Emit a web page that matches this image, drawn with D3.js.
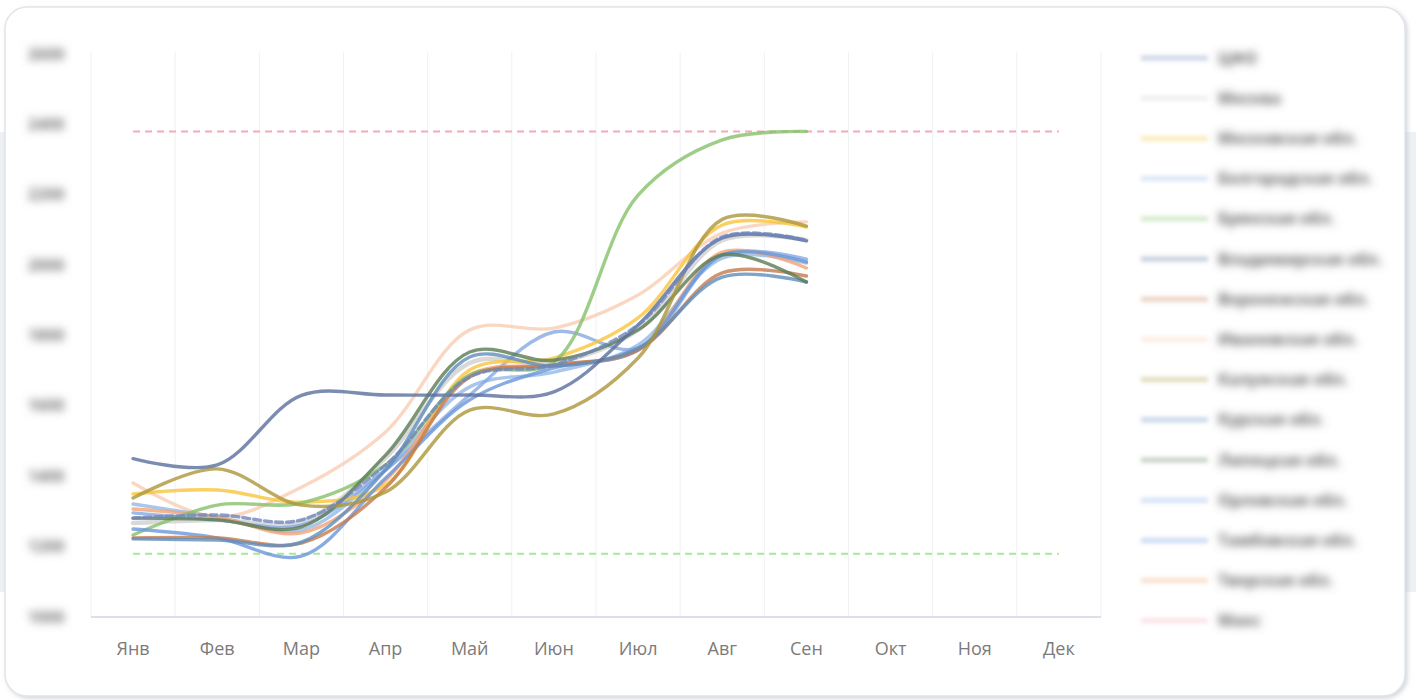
<!DOCTYPE html>
<html>
<head>
<meta charset="utf-8">
<script src="https://cdn.jsdelivr.net/npm/d3@7"></script>
<style>
  body { margin: 0; background: #ffffff; }
  svg { display: block; font-family: "Open Sans", sans-serif; }
</style>
</head>
<body>
<svg width="1416" height="700"></svg>
<script>
// Data
var months = ["Янв", "Фев", "Мар", "Апр", "Май", "Июн", "Июл", "Авг", "Сен", "Окт", "Ноя", "Дек"];
var yTicks = [1000, 1200, 1400, 1600, 1800, 2000, 2200, 2400, 2600];

var seriesNames = ["ЦФО", "Москва", "Московская обл.", "Белгородская обл.", "Брянская обл.",
    "Владимирская обл.", "Воронежская обл.", "Ивановская обл.", "Калужская обл.", "Курская обл.",
    "Липецкая обл.", "Орловская обл.", "Тамбовская обл.", "Тверская обл."];

var cfo          = [1281, 1290, 1276, 1432, 1682, 1716, 1830, 2080, 2071];
var moskva       = [1267, 1276, 1270, 1452, 1722, 1722, 1816, 2071, 2071];
var moskovskaya  = [1350, 1361, 1326, 1375, 1702, 1736, 1850, 2114, 2108];
var belgorodskaya= [1321, 1284, 1247, 1418, 1654, 1696, 1773, 2020, 2006];
var bryanskaya   = [1233, 1318, 1324, 1432, 1688, 1725, 2199, 2356, 2380];
var vladimirskaya= [1450, 1432, 1630, 1631, 1631, 1640, 1830, 2077, 2069];
var voronezhskaya= [1225, 1225, 1210, 1367, 1682, 1716, 1759, 1978, 1969];
var ivanovskaya  = [1381, 1284, 1369, 1526, 1816, 1821, 1915, 2091, 2123];
var kaluzhskaya  = [1338, 1421, 1318, 1355, 1588, 1577, 1736, 2130, 2111];
var kurskaya     = [1222, 1219, 1213, 1418, 1739, 1713, 1764, 1966, 1952];
var lipetskaya   = [1281, 1276, 1256, 1460, 1753, 1730, 1816, 2029, 1952];
var orlovskaya   = [1296, 1276, 1261, 1418, 1631, 1810, 1764, 2029, 2017];
var tambovskaya  = [1250, 1225, 1173, 1395, 1617, 1708, 1759, 2029, 2009];
var tverskaya    = [1307, 1284, 1239, 1389, 1688, 1716, 1759, 2037, 1992];

var maxLevel = 2380;
var minLevel = 1180;

var seriesValues = [cfo, moskva, moskovskaya, belgorodskaya, bryanskaya, vladimirskaya,
    voronezhskaya, ivanovskaya, kaluzhskaya, kurskaya, lipetskaya, orlovskaya, tambovskaya, tverskaya];

var colors = ["#6f86bb", "#cfcfcf", "#f7c43a", "#93b8e6", "#86c06a", "#5a6f9c", "#c47a4c",
    "#f8c9ae", "#ad963a", "#5e8dbd", "#5b7c52", "#86a9e2", "#6a97da", "#f1a374"];

// The svg
var svg = d3.select("svg"),
    width = +svg.attr("width"),
    height = +svg.attr("height");

// page band + card
svg.append("rect")
    .attr("x", 0).attr("y", 132).attr("width", width).attr("height", 460)
    .attr("fill", "#eef0f4");

var defs = svg.append("defs");
var sh = defs.append("filter").attr("id", "shadow").attr("x", "-5%").attr("y", "-5%").attr("width", "110%").attr("height", "110%");
sh.append("feDropShadow").attr("dx", 2).attr("dy", 2).attr("stdDeviation", 2).attr("flood-color", "#b8bec6").attr("flood-opacity", 0.6);
defs.append("filter").attr("id", "blurText").attr("x", "-20%").attr("y", "-20%").attr("width", "140%").attr("height", "140%")
    .append("feGaussianBlur").attr("stdDeviation", 4);
defs.append("filter").attr("id", "blurSwatch").attr("x", "-20%").attr("y", "-20%").attr("width", "140%").attr("height", "140%")
    .append("feGaussianBlur").attr("stdDeviation", 2);

svg.append("rect")
    .attr("x", 5).attr("y", 7).attr("width", 1400).attr("height", 689)
    .attr("rx", 22)
    .attr("fill", "#ffffff")
    .attr("stroke", "#e1e5ea")
    .attr("stroke-width", 1.5)
    .attr("filter", "url(#shadow)");

// Scales
var x = d3.scaleBand()
    .domain(months)
    .range([91, 1101]);
var cx = function(m) { return x(m) + x.bandwidth() / 2; };

var y = d3.scaleLinear()
    .domain([1000, 2600])
    .range([617, 54]);

// vertical grid at category edges
svg.append("g")
    .selectAll("line")
    .data(months.concat(["end"]))
    .enter()
    .append("line")
    .attr("x1", function(d) { return d === "end" ? 1101 : x(d); })
    .attr("x2", function(d) { return d === "end" ? 1101 : x(d); })
    .attr("y1", 52)
    .attr("y2", 617)
    .attr("stroke", "#f0f1f3")
    .attr("stroke-width", 1);

// x axis line and labels
svg.append("line")
    .attr("x1", 91).attr("x2", 1101)
    .attr("y1", 617).attr("y2", 617)
    .attr("stroke", "#dde1e7")
    .attr("stroke-width", 2);

svg.append("g")
    .selectAll("text")
    .data(months)
    .enter()
    .append("text")
    .attr("x", cx)
    .attr("y", 655)
    .attr("text-anchor", "middle")
    .style("font-size", "18px")
    .attr("fill", "#7b7b7b")
    .text(function(d) { return d; });

// y labels (soft, as in the reference)
svg.append("g")
    .attr("filter", "url(#blurText)")
    .selectAll("text")
    .data(yTicks)
    .enter()
    .append("text")
    .attr("x", 46)
    .attr("y", function(d) { return y(d); })
    .attr("dy", "0.35em")
    .attr("text-anchor", "middle")
    .style("font-size", "16px")
    .style("font-weight", "700")
    .attr("fill", "#7a7a7a")
    .text(function(d) { return d; });

// reference levels
svg.append("line")
    .attr("x1", cx(months[0])).attr("x2", cx(months[11]))
    .attr("y1", y(maxLevel)).attr("y2", y(maxLevel))
    .attr("stroke", "#f7a9b8")
    .attr("stroke-width", 2)
    .style("stroke-dasharray", "7,5");

svg.append("line")
    .attr("x1", cx(months[0])).attr("x2", cx(months[11]))
    .attr("y1", y(minLevel)).attr("y2", y(minLevel))
    .attr("stroke", "#a3ea93")
    .attr("stroke-width", 2)
    .style("stroke-dasharray", "7,5");

// lines
var line = d3.line()
    .x(function(d, i) { return cx(months[i]); })
    .y(function(d) { return y(d); })
    .curve(d3.curveCatmullRom.alpha(0.5));

// draw order: light ones first, then darker, dashed ЦФО on top
var order = [7, 1, 3, 11, 13, 2, 4, 12, 6, 9, 10, 8, 5, 0];

svg.append("g")
    .selectAll("path")
    .data(order)
    .enter()
    .append("path")
    .attr("d", function(i) { return line(seriesValues[i]); })
    .attr("fill", "none")
    .attr("stroke", function(i) { return colors[i]; })
    .attr("stroke-width", function(i) { return i === 1 ? 4.5 : 3.4; })
    .attr("stroke-opacity", function(i) { return i === 7 ? 0.75 : 0.8; })
    .style("stroke-dasharray", function(i) { return i === 0 ? "7,4" : null; })
    .attr("stroke-linecap", "round");

// legend
var legendNames = seriesNames.concat(["Макс"]);
var legendColors = colors.concat(["#f7a9b8"]);

var legend = svg.append("g");

legend.append("g")
    .attr("filter", "url(#blurSwatch)")
    .selectAll("line")
    .data(legendNames)
    .enter()
    .append("line")
    .attr("x1", 1141)
    .attr("x2", 1208)
    .attr("y1", function(d, i) { return 58 + i * 40.2; })
    .attr("y2", function(d, i) { return 58 + i * 40.2; })
    .attr("stroke", function(d, i) { return legendColors[i]; })
    .attr("stroke-width", 5)
    .attr("stroke-opacity", 0.35);

legend.append("g")
    .attr("filter", "url(#blurText)")
    .selectAll("text")
    .data(legendNames)
    .enter()
    .append("text")
    .attr("x", 1218)
    .attr("y", function(d, i) { return 58 + i * 40.2; })
    .attr("dy", "0.35em")
    .style("font-size", "16px")
    .style("font-weight", "700")
    .attr("fill", "#666666")
    .text(function(d) { return d; });
</script>
</body>
</html>
